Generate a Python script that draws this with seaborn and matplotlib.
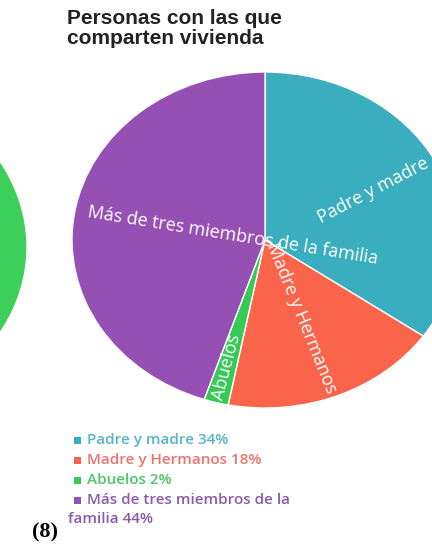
import matplotlib
matplotlib.use("Agg")
import numpy as np
import matplotlib.pyplot as plt
from matplotlib.patches import Rectangle
import seaborn as sns

# Data
categories = ["Padre y madre", "Madre y Hermanos", "Abuelos", "Más de tres miembros de la familia"]
percentages = [34, 18, 2, 44]
legend_labels = ["Padre y madre 34%", "Madre y Hermanos 18%", "Abuelos 2%",
                 "Más de tres miembros de la\nfamilia 44%"]
slice_colors = ["#3aadbe", "#fa644b", "#36c955", "#9650b4"]
legend_text_colors = ["#57b4c6", "#f0726a", "#48c864", "#8c5aac"]
neighbour_values = [100]
neighbour_colors = ["#3ccf5a"]

sns.set_theme(style="white")
plt.rcParams["font.family"] = ["Open Sans", "DejaVu Sans"]

W, H = 432, 546
SX = 193 / 168  # horizontal stretch of the pies

fig = plt.figure(figsize=(W / 100, H / 100), dpi=100)
fig.patch.set_facecolor("white")
ax = fig.add_axes([0, 0, 1, 1])


def to_data(px, py):
    return px / SX, H - py


R = 168
cx, cy = to_data(265, 240)

# Neighbouring chart, mostly outside the frame
ax.pie(neighbour_values, colors=neighbour_colors, radius=R,
       center=to_data(-166, 247), startangle=90, counterclock=False)

wedges, _ = ax.pie(percentages, colors=slice_colors, radius=R, center=(cx, cy),
                   startangle=90, counterclock=False,
                   wedgeprops=dict(edgecolor="white", linewidth=1.0))

ax.set_aspect("auto")
ax.set_xlim(0, W / SX)
ax.set_ylim(0, H)
ax.axis("off")

# Slice labels, rotated along the slice direction
label_dist = [0.63, 0.50, 0.785, 0.17]
for w, text, d in zip(wedges, categories, label_dist):
    theta = (w.theta1 + w.theta2) / 2.0
    t = np.deg2rad(theta)
    x = cx + d * R * np.cos(t)
    y = cy + d * R * np.sin(t)
    rot = theta % 360
    if 90 < rot < 270:
        rot -= 180
    ax.text(x, y, text, color="white", fontsize=13, rotation=rot,
            rotation_mode="anchor", ha="center", va="center")

# Title
fig.text(67 / W, 1 - 9 / H, "Personas con las que\ncomparten vivienda",
         fontsize=15, fontweight="bold", color="#222222", va="top", ha="left",
         family=["Liberation Sans", "DejaVu Sans"], linespacing=1.08)

# Legend
rows_y = [440, 460, 480, 500]
for yy, lab, col, tcol in zip(rows_y, legend_labels, slice_colors, legend_text_colors):
    fig.patches.append(Rectangle((74 / W, 1 - (yy + 3.5) / H), 7 / W, 7 / H,
                                 transform=fig.transFigure, facecolor=col,
                                 edgecolor="none"))
    first, *rest = lab.split("\n")
    fig.text(87 / W, 1 - yy / H, first, color=tcol, fontsize=11,
             fontweight="semibold", va="center", ha="left")
    if rest:
        fig.text(68 / W, 1 - (yy + 19) / H, rest[0], color=tcol, fontsize=11,
                 fontweight="semibold", va="center", ha="left")

# Figure number
fig.text(32 / W, 1 - 532 / H, "(8)", fontsize=16, fontweight="bold",
         family=["Liberation Serif", "DejaVu Serif"], color="black",
         va="center", ha="left")

fig.savefig("out.png", dpi=100, facecolor="white")
